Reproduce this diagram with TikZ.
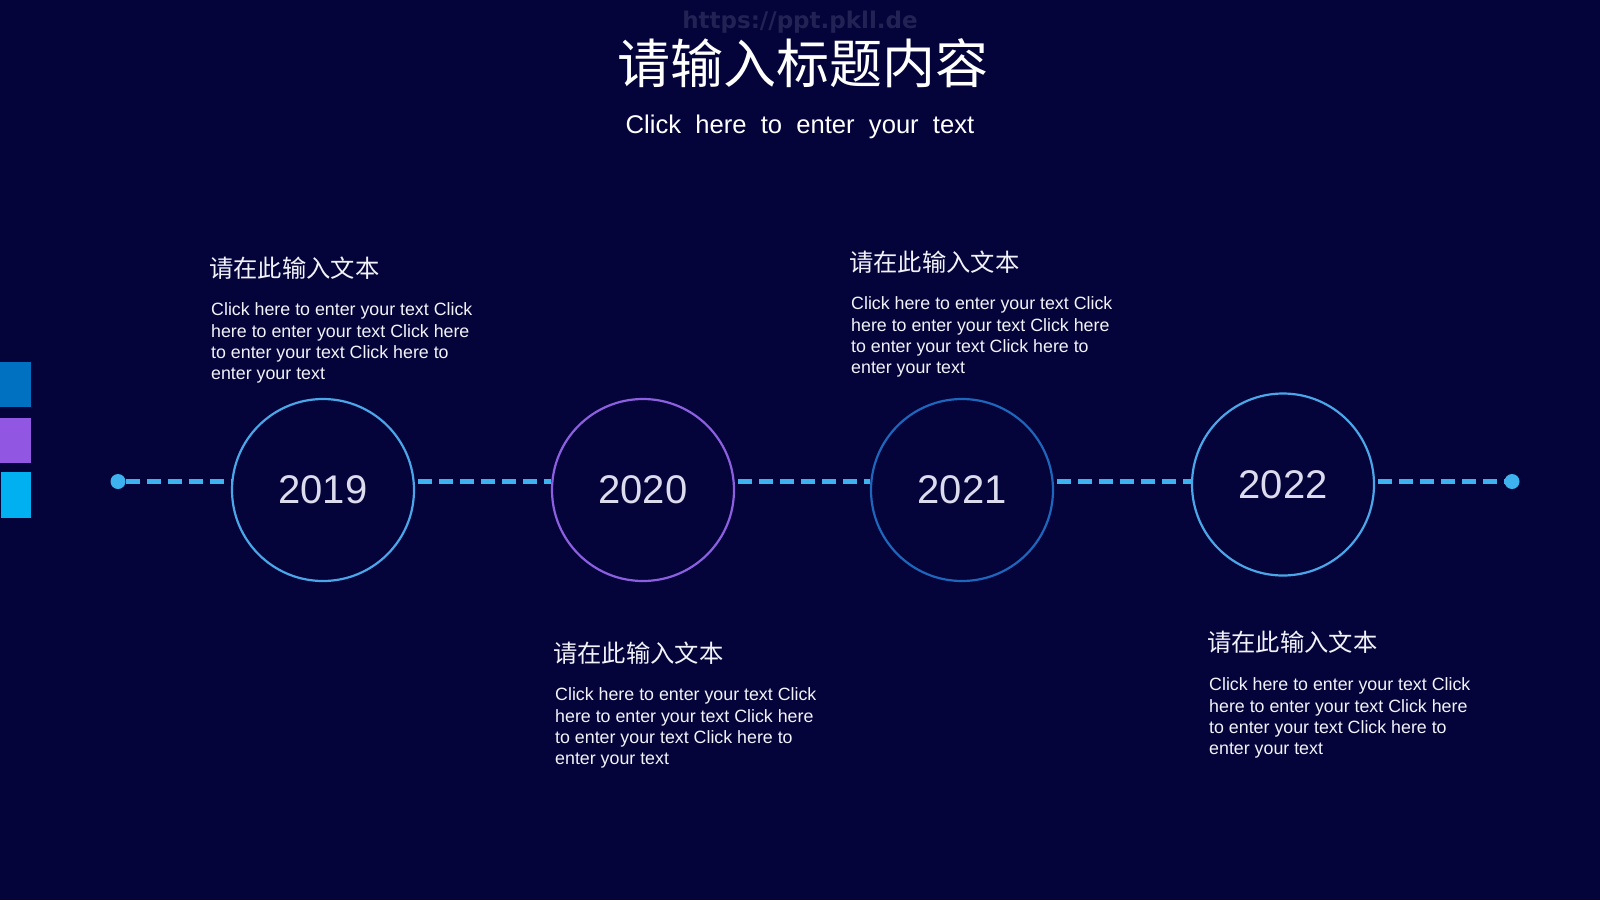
\documentclass[tikz,border=0pt]{standalone}
\usepackage{fontspec}
\setmainfont{Liberation Sans}
\newfontfamily\cjkfont{Noto Sans CJK SC}
\newfontfamily\spacedfont[WordSpace=2]{Liberation Sans}
\newfontfamily\markfont{DejaVu Sans}
\usetikzlibrary{positioning}
\definecolor{bgnavy}{HTML}{04043A}
\definecolor{lineblue}{HTML}{3DB2EE}
\definecolor{ringblue}{HTML}{4AA6E8}
\definecolor{ringpurple}{HTML}{8C5EE0}
\definecolor{ringdeep}{HTML}{1D66BC}
\definecolor{barblue}{HTML}{0070C0}
\definecolor{barpurple}{HTML}{9257E2}
\definecolor{barcyan}{HTML}{00B0F0}
\definecolor{yeartext}{HTML}{DCDCEE}
\definecolor{softwhite}{HTML}{F2F2FA}
\definecolor{watermark}{HTML}{222254}

\begin{document}
\begin{tikzpicture}[
    x=1pt, y=-1pt,
    % --- node styles ---
    yearcircle/.style={
        circle, minimum size=182pt, inner sep=0pt, line width=2.2pt,
        fill=bgnavy, text=yeartext, font=\fontsize{40}{44}\selectfont
    },
    enddot/.style={circle, fill=lineblue, minimum size=15pt, inner sep=0pt},
    heading/.style={
        anchor=base west, inner sep=0pt, text=softwhite,
        font=\cjkfont\fontsize{24.3}{28}\selectfont
    },
    bodytext/.style={
        anchor=north west, inner sep=0pt, align=left, text=softwhite,
        font=\fontsize{17.8}{21.3}\selectfont
    },
    timeline/.style={lineblue, line width=5pt, dash pattern=on 14pt off 7pt},
]

% ===== BACKGROUND =====
\useasboundingbox (0,0) rectangle (1600,900);
\fill[bgnavy] (0,0) rectangle (1600,900);

% side bars
\fill[barblue] (0,362) rectangle (31,407);
\fill[barpurple] (0,418) rectangle (31,463);
\fill[barcyan] (1,472) rectangle (31,518);

% ===== TITLE =====
\node[anchor=base, text=watermark, font=\markfont\bfseries\fontsize{23}{26}\selectfont] (wm) at (800,28) {https://ppt.pkll.de};
\node[anchor=base, text=white, font=\cjkfont\fontsize{53}{60}\selectfont] (title) at (803,83) {请输入标题内容};
\node[anchor=base, text=white, font=\spacedfont\fontsize{25.6}{30}\selectfont] (subtitle) at (800,133) {Click here to enter your text};

% ===== TIMELINE =====
\node[enddot] (dotL) at (118,481.5) {};
\node[enddot] (dotR) at (1512,481.5) {};

\node[yearcircle, draw=ringblue] (c2019) at (323,490) {2019};
\node[yearcircle, draw=ringpurple] (c2020) at (643,490) {2020};
\node[yearcircle, draw=ringdeep] (c2021) at (962,490) {2021};
\node[yearcircle, draw=ringblue] (c2022) at (1283,484.5) {2022};

\draw[timeline] (dotL.east) -- (c2019.west |- dotL);
\draw[timeline] ([xshift=3pt]c2019.east |- dotL) -- (c2020.west |- dotL);
\draw[timeline] ([xshift=3pt]c2020.east |- dotL) -- (c2021.west |- dotL);
\draw[timeline] ([xshift=3pt]c2021.east |- dotL) -- (c2022.west |- dotL);
\draw[timeline] ([xshift=3pt]c2022.east |- dotR) -- (dotR.west);

% ===== TEXT BLOCKS =====
\node[heading] (h2019) at (209,277) {请在此输入文本};
\node[bodytext] (b2019) at (211,302.7)
    {Click here to enter your text Click\\here to enter your text Click here\\to enter your text Click here to\\enter your text};

\node[heading] (h2020) at (553,662) {请在此输入文本};
\node[bodytext] (b2020) at (555,687.7)
    {Click here to enter your text Click\\here to enter your text Click here\\to enter your text Click here to\\enter your text};

\node[heading] (h2021) at (849,271) {请在此输入文本};
\node[bodytext] (b2021) at (851,296.7)
    {Click here to enter your text Click\\here to enter your text Click here\\to enter your text Click here to\\enter your text};

\node[heading] (h2022) at (1207,651) {请在此输入文本};
\node[bodytext] (b2022) at (1209,677.7)
    {Click here to enter your text Click\\here to enter your text Click here\\to enter your text Click here to\\enter your text};

\end{tikzpicture}
\end{document}
